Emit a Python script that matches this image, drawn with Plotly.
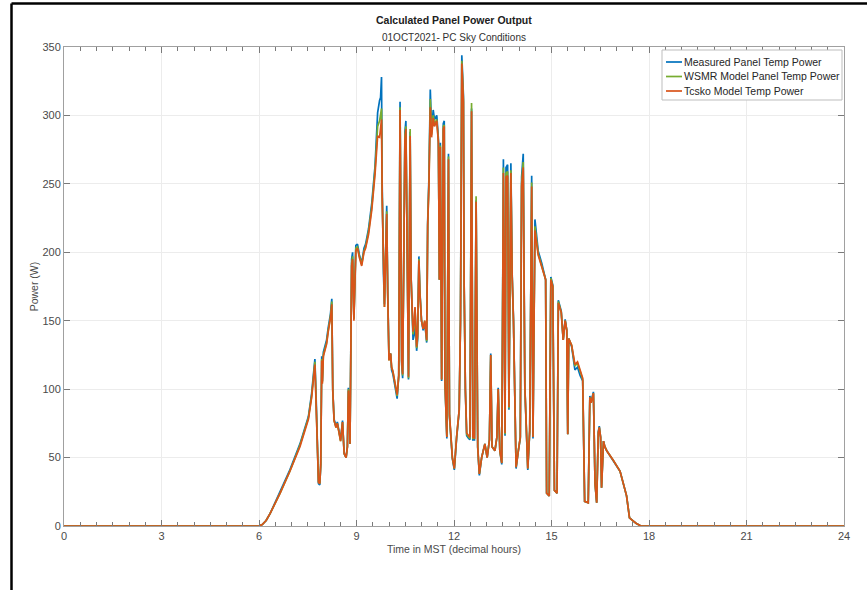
import plotly.graph_objects as go

# Time in MST (decimal hours)
hours = [
    0.0, 6.0, 6.1, 6.22, 6.34, 6.65, 6.95, 7.26, 7.52, 7.62,
    7.72, 7.76, 7.8, 7.83, 7.87, 7.9, 7.93, 7.95, 7.98, 8.08,
    8.13, 8.2, 8.24, 8.27, 8.31, 8.37, 8.41, 8.47, 8.51, 8.57,
    8.62, 8.68, 8.72, 8.75, 8.78, 8.8, 8.83, 8.85, 8.88, 8.92,
    8.98, 9.03, 9.09, 9.16, 9.23, 9.28, 9.37, 9.47, 9.57, 9.65,
    9.71, 9.74, 9.77, 9.79, 9.83, 9.86, 9.9, 9.93, 9.96, 10.0,
    10.05, 10.08, 10.12, 10.2, 10.25, 10.3, 10.34, 10.37, 10.39, 10.42,
    10.46, 10.49, 10.52, 10.56, 10.6, 10.65, 10.68, 10.74, 10.78, 10.8,
    10.85, 10.88, 10.92, 10.95, 11.0, 11.05, 11.1, 11.16, 11.19, 11.23,
    11.27, 11.31, 11.36, 11.4, 11.47, 11.52, 11.55, 11.58, 11.62, 11.67,
    11.7, 11.72, 11.78, 11.83, 11.86, 11.95, 12.01, 12.08, 12.16, 12.2,
    12.24, 12.29, 12.31, 12.35, 12.39, 12.45, 12.49, 12.54, 12.58, 12.63,
    12.68, 12.73, 12.78, 12.85, 12.95, 13.02, 13.09, 13.13, 13.17, 13.26,
    13.32, 13.36, 13.41, 13.47, 13.52, 13.57, 13.6, 13.65, 13.69, 13.75,
    13.79, 13.83, 13.91, 13.98, 14.04, 14.08, 14.13, 14.18, 14.27, 14.33,
    14.39, 14.43, 14.49, 14.59, 14.7, 14.82, 14.85, 14.93, 14.98, 15.04,
    15.09, 15.17, 15.21, 15.3, 15.36, 15.42, 15.47, 15.5, 15.53, 15.62,
    15.72, 15.8, 15.88, 15.96, 16.02, 16.13, 16.18, 16.22, 16.29, 16.34,
    16.39, 16.44, 16.47, 16.51, 16.54, 16.6, 16.64, 16.7, 16.9, 17.11,
    17.31, 17.36, 17.4, 17.5, 17.6, 17.75, 24.0,
]

measured_power = [
    0, 0, 1, 4, 9, 25, 41, 60, 80, 97,
    122, 92, 61, 31, 30, 45, 124, 106, 127, 136,
    145, 155, 166, 100, 78, 73, 76, 68, 63, 77,
    53, 50, 58, 101, 86, 60, 122, 195, 200, 152,
    205, 206, 198, 192, 203, 206, 217, 236, 263, 302,
    311, 313, 328, 250, 184, 162, 204, 234, 172, 122,
    126, 114, 111, 99, 93, 110, 310, 202, 118, 108,
    196, 288, 296, 177, 107, 288, 182, 136, 140, 158,
    128, 136, 197, 172, 150, 143, 149, 134, 222, 256,
    319, 290, 304, 297, 300, 283, 180, 280, 106, 294,
    296, 106, 64, 272, 80, 49, 41, 64, 84, 152,
    344, 315, 180, 99, 66, 64, 63, 305, 63, 63,
    238, 57, 37, 50, 60, 50, 63, 126, 58, 55,
    65, 101, 55, 45, 268, 66, 262, 264, 85, 265,
    184, 151, 42, 55, 64, 255, 272, 101, 41, 69,
    256, 64, 224, 201, 192, 180, 24, 22, 182, 176,
    26, 24, 165, 157, 136, 151, 143, 67, 137, 131,
    114, 116, 110, 106, 18, 17, 95, 91, 98, 31,
    17, 69, 73, 65, 28, 62, 58, 55, 48, 40,
    22, 14, 6, 4, 2, 0, 0,
]

wsmr_power = [
    0, 0, 1, 4, 9, 24, 40, 59, 79, 95,
    120, 91, 60, 32, 31, 45, 122, 105, 125, 134,
    143, 153, 164, 99, 77, 72, 75, 67, 62, 76,
    53, 50, 58, 100, 85, 60, 121, 192, 197, 151,
    203, 204, 197, 191, 201, 204, 215, 233, 260, 292,
    296, 300, 305, 244, 181, 160, 201, 230, 170, 121,
    126, 116, 113, 101, 95, 110, 306, 200, 120, 110,
    194, 285, 292, 175, 108, 290, 181, 140, 146, 159,
    130, 138, 195, 171, 150, 144, 150, 135, 220, 252,
    312, 286, 300, 294, 297, 281, 180, 278, 107, 292,
    293, 107, 65, 270, 81, 50, 42, 65, 85, 150,
    340, 312, 180, 100, 67, 65, 64, 309, 64, 64,
    241, 58, 38, 50, 60, 50, 63, 125, 58, 55,
    65, 100, 55, 46, 262, 67, 258, 259, 86, 260,
    182, 150, 43, 55, 65, 250, 266, 102, 42, 70,
    251, 65, 219, 199, 190, 180, 24, 22, 181, 175,
    26, 24, 164, 156, 136, 150, 143, 67, 137, 132,
    117, 119, 113, 107, 18, 17, 94, 90, 97, 31,
    17, 68, 72, 65, 28, 62, 58, 55, 48, 40,
    22, 14, 6, 4, 2, 0, 0,
]

tcsko_power = [
    0, 0, 1, 4, 9, 24, 40, 58, 78, 94,
    118, 90, 60, 32, 31, 45, 121, 104, 124, 133,
    142, 152, 162, 99, 77, 72, 75, 67, 62, 76,
    53, 50, 58, 99, 85, 60, 120, 190, 195, 150,
    201, 203, 196, 190, 200, 203, 213, 231, 257, 285,
    284, 292, 297, 240, 180, 160, 200, 228, 170, 121,
    126, 116, 113, 102, 96, 110, 304, 200, 121, 111,
    194, 282, 290, 175, 109, 285, 180, 142, 150, 160,
    131, 140, 194, 170, 150, 144, 150, 136, 219, 250,
    306, 284, 298, 292, 296, 280, 180, 277, 107, 290,
    292, 107, 65, 268, 82, 50, 42, 65, 85, 150,
    338, 310, 180, 100, 68, 66, 65, 303, 65, 64,
    237, 58, 38, 50, 60, 50, 63, 125, 58, 55,
    65, 100, 55, 46, 258, 68, 255, 256, 87, 258,
    182, 150, 43, 55, 65, 248, 262, 102, 42, 70,
    248, 65, 216, 198, 190, 180, 24, 22, 180, 175,
    26, 24, 163, 156, 136, 150, 143, 67, 137, 132,
    118, 120, 114, 108, 18, 17, 94, 90, 97, 31,
    17, 68, 72, 65, 28, 62, 58, 55, 48, 40,
    22, 14, 6, 4, 2, 0, 0,
]

series_names = ["Measured Panel Temp Power", "WSMR Model Panel Temp Power", "Tcsko Model Temp Power"]
series_colors = ["#0072BD", "#77AC30", "#D95319"]
x_ticks = [0, 3, 6, 9, 12, 15, 18, 21, 24]
y_ticks = [0, 50, 100, 150, 200, 250, 300, 350]

FONT = "Liberation Sans, Arial, sans-serif"
AX = "#a0a0a0"
TICK = "#7a7a7a"
TXT = "#4a4a4a"

fig = go.Figure()
for name, ys, col in zip(series_names, [measured_power, wsmr_power, tcsko_power], series_colors):
    fig.add_trace(go.Scatter(x=hours, y=ys, mode="lines", name=name,
                             line=dict(color=col, width=1.7), showlegend=False))

axis_common = dict(showline=True, linecolor=AX, linewidth=1, mirror="allticks",
                   ticks="inside", tickcolor=TICK, ticklen=6, tickwidth=1,
                   showgrid=True, gridcolor="#ececec", gridwidth=1, zeroline=False,
                   layer="above traces",
                   tickfont=dict(family=FONT, size=11, color=TXT))

fig.update_xaxes(range=[0, 24], tickvals=x_ticks, ticktext=[str(v) for v in x_ticks],
                 minor=dict(dtick=0.5, tick0=0, ticks="inside", ticklen=4, tickcolor=TICK,
                            tickwidth=1, showgrid=False),
                 title=dict(text="Time in MST (decimal hours)", standoff=4,
                            font=dict(family=FONT, size=10.5, color=TXT)),
                 **axis_common)
fig.update_yaxes(range=[0, 350], tickvals=y_ticks, ticktext=[str(v) for v in y_ticks],
                 title=dict(text="Power (W)", standoff=1,
                            font=dict(family=FONT, size=10.5, color=TXT)),
                 **axis_common)

W, H = 867, 590
L, R, T, B = 64, 23, 47, 64
pw, ph = W - L - R, H - T - B

def px(x):
    return (x - L) / pw

def py(y):
    return (H - B - y) / ph

shapes = []
# outer black frame lines (top and left)
shapes.append(dict(type="line", xref="paper", yref="paper", x0=px(11.5), x1=px(W + 5),
                   y0=py(3.5), y1=py(3.5), line=dict(color="black", width=2.5)))
shapes.append(dict(type="line", xref="paper", yref="paper", x0=px(11.5), x1=px(11.5),
                   y0=py(3.5), y1=py(H + 5), line=dict(color="black", width=2.5)))
# legend box
shapes.append(dict(type="rect", xref="paper", yref="paper", x0=px(662), x1=px(842),
                   y0=py(100), y1=py(50), line=dict(color="#bdbdbd", width=1), fillcolor="white"))
annotations = []
rows_y = [62, 76.5, 91]
for name, col, ry in zip(series_names, series_colors, rows_y):
    shapes.append(dict(type="line", xref="paper", yref="paper", x0=px(666), x1=px(682),
                       y0=py(ry), y1=py(ry), line=dict(color=col, width=1.7)))
    annotations.append(dict(text=name, xref="paper", yref="paper", x=px(682), y=py(ry),
                            xanchor="left", yanchor="middle", showarrow=False,
                            font=dict(family=FONT, size=10.5, color="#262626")))

annotations.append(dict(text="<b>Calculated Panel Power Output</b>", xref="paper", yref="paper",
                        x=0.5, y=py(20), xanchor="center", yanchor="middle", showarrow=False,
                        font=dict(family=FONT, size=10.5, color="#202020")))
annotations.append(dict(text="01OCT2021- PC Sky Conditions", xref="paper", yref="paper",
                        x=0.5, y=py(38), xanchor="center", yanchor="middle", showarrow=False,
                        font=dict(family=FONT, size=10, color="#303030")))

fig.update_layout(width=W, height=H, margin=dict(l=L, r=R, t=T, b=B),
                  paper_bgcolor="white", plot_bgcolor="white",
                  shapes=shapes, annotations=annotations, showlegend=False,
                  font=dict(family=FONT, size=11, color=TXT))

fig.write_html("out.html", config={"displayModeBar": False},
               post_script="document.body.style.margin='0';document.body.style.overflow='hidden';")
